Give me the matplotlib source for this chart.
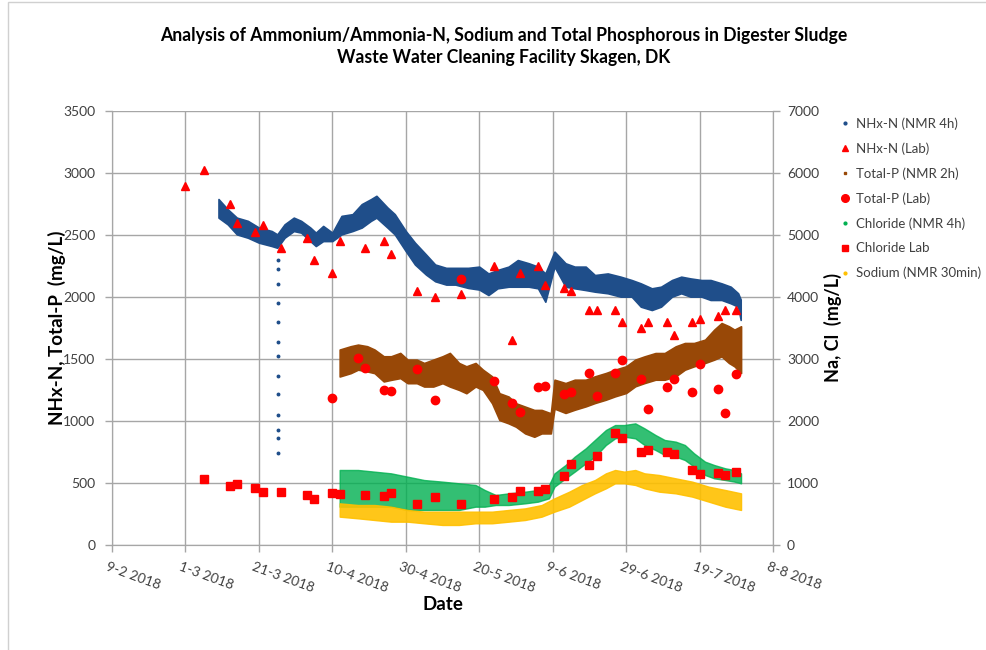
import matplotlib
matplotlib.use('Agg')
import matplotlib.pyplot as plt
import matplotlib.transforms as mtransforms
from matplotlib.lines import Line2D
import numpy as np
import pandas as pd

plt.rcParams['font.family'] = ['Lato', 'DejaVu Sans']

START = pd.Timestamp('2018-02-09')
END = pd.Timestamp('2018-08-08')

# ---------------- data ----------------
LAB_DATES_NH = ['2018-03-01', '2018-03-06', '2018-03-13', '2018-03-15', '2018-03-20', '2018-03-22',
                '2018-03-27', '2018-04-03', '2018-04-05', '2018-04-10', '2018-04-12', '2018-04-19',
                '2018-04-24', '2018-04-26', '2018-05-03', '2018-05-08', '2018-05-15', '2018-05-24',
                '2018-05-29', '2018-05-31', '2018-06-05', '2018-06-07', '2018-06-12', '2018-06-14',
                '2018-06-19', '2018-06-21', '2018-06-26', '2018-06-28', '2018-07-03', '2018-07-05',
                '2018-07-10', '2018-07-12', '2018-07-17', '2018-07-19', '2018-07-24', '2018-07-26',
                '2018-07-29']
NH_LAB = [2895, 3022, 2748, 2594, 2522, 2578, 2398, 2476, 2296, 2196, 2449, 2398, 2449, 2349,
          2048, 1998, 2022, 2250, 1651, 2196, 2250, 2097, 2075, 2048, 1895, 1895, 1895, 1796,
          1748, 1796, 1796, 1696, 1796, 1823, 1849, 1895, 1895]

LAB_DATES_P = ['2018-04-10', '2018-04-17', '2018-04-19', '2018-04-24', '2018-04-26', '2018-05-03',
               '2018-05-08', '2018-05-15', '2018-05-24', '2018-05-29', '2018-05-31', '2018-06-05',
               '2018-06-07', '2018-06-12', '2018-06-14', '2018-06-19', '2018-06-21', '2018-06-26',
               '2018-06-28', '2018-07-03', '2018-07-05', '2018-07-10', '2018-07-12', '2018-07-17',
               '2018-07-19', '2018-07-24', '2018-07-26', '2018-07-29']
P_LAB = [1188, 1506, 1425, 1253, 1242, 1419, 1167, 2145, 1325, 1145, 1075, 1272, 1282, 1218,
         1231, 1385, 1204, 1390, 1492, 1336, 1094, 1277, 1336, 1231, 1457, 1261, 1067, 1377]

LAB_DATES_CL = LAB_DATES_NH[1:]
CL_LAB = [1069, 947, 979, 924, 850, 850, 802, 747, 834, 823, 802, 795, 844, 666, 769, 666, 747,
          769, 876, 876, 903, 1108, 1311, 1285, 1440, 1811, 1726, 1495, 1537, 1505, 1473, 1210,
          1150, 1161, 1129, 1177]

# NMR series: day offsets from 9-2 2018 with lower / upper edge of the point cloud
NH_DAY = [29, 31.5, 34, 37, 40, 43.5, 45, 47, 49.5, 51.5, 54, 55.5, 57.5, 60, 62.5, 65.5, 68,
          70.5, 72, 75, 77, 80, 82.5, 85.5, 88, 91, 93.5, 97, 100, 102.5, 105, 108, 110.5,
          113.5, 116, 118, 120.5, 123.5, 126, 129, 131.5, 135, 138.5, 141.5, 144, 147, 149.5,
          152.5, 155, 157.5, 160.5, 163, 166, 168.5, 170.5, 171.2]
NH_LOW = [2640, 2586, 2505, 2478, 2438, 2411, 2397, 2478, 2532, 2519, 2451, 2411, 2451, 2451,
          2505, 2532, 2560, 2614, 2640, 2560, 2505, 2370, 2262, 2181, 2127, 2100, 2100, 2073,
          2060, 2016, 2070, 2083, 2083, 2083, 2070, 1962, 2245, 2083, 2070, 2056, 2043, 2030,
          2003, 2003, 1922, 1895, 1922, 2003, 2030, 2003, 2003, 1976, 1976, 1949, 1922, 1815]
NH_HIGH = [2790, 2708, 2640, 2614, 2560, 2532, 2505, 2586, 2640, 2614, 2560, 2519, 2573, 2519,
           2654, 2668, 2749, 2789, 2816, 2722, 2668, 2532, 2438, 2343, 2262, 2235, 2235, 2235,
           2245, 2190, 2218, 2245, 2298, 2272, 2245, 2190, 2366, 2272, 2245, 2245, 2177, 2190,
           2164, 2137, 2110, 2070, 2083, 2137, 2164, 2150, 2137, 2137, 2110, 2083, 2030, 1980]
NH_DROP_DAY = 45.1
NH_DROP = [2298, 2226, 2105, 1949, 1801, 1637, 1524, 1366, 1215, 1051, 930, 863, 739]

P_DAY = [62, 65, 67, 69.5, 71.5, 74, 76, 78.5, 80.5, 83, 85, 87.5, 90, 92, 94.5, 96.5, 99,
         101, 103.5, 105.5, 108, 110, 112.5, 115, 117, 119.5, 120.5, 123.5, 126, 129, 131.5,
         134.5, 137, 140, 142.5, 145, 148, 150.5, 153.5, 156, 158.5, 161.5, 164, 166, 168,
         169.5, 171.3]
P_LOW = [1359, 1386, 1414, 1400, 1386, 1319, 1332, 1346, 1305, 1305, 1278, 1278, 1305, 1278,
         1251, 1224, 1278, 1251, 1143, 1008, 981, 954, 900, 873, 900, 900, 1100, 1065, 1091,
         1118, 1145, 1172, 1199, 1226, 1280, 1306, 1333, 1333, 1360, 1414, 1441, 1468, 1495,
         1521, 1468, 1441, 1387]
P_HIGH = [1576, 1603, 1616, 1603, 1576, 1522, 1522, 1549, 1495, 1495, 1468, 1495, 1522, 1549,
          1468, 1441, 1468, 1414, 1360, 1224, 1197, 1143, 1116, 1089, 1089, 1062, 1333, 1306,
          1333, 1333, 1360, 1387, 1414, 1441, 1495, 1521, 1548, 1548, 1602, 1629, 1629, 1656,
          1737, 1790, 1764, 1737, 1764]

CL_DAY = [62, 67, 71.5, 76, 80.5, 85, 90, 94.5, 99, 101.5, 104.5, 108, 112.5, 116, 119, 120.5,
          123.5, 126, 129, 131.5, 134.5, 137, 139.5, 142.5, 145, 148, 150.5, 153.5, 156, 158.5,
          161.5, 164, 167, 169.5, 171.3]
CL_LOW = [618, 618, 618, 618, 565, 565, 565, 565, 618, 618, 645, 645, 672, 699, 753, 941, 1075,
          1183, 1317, 1425, 1613, 1720, 1747, 1720, 1613, 1532, 1452, 1425, 1371, 1264, 1129,
          1075, 1048, 1022, 995]
CL_HIGH = [1210, 1210, 1183, 1156, 1102, 1048, 1022, 995, 968, 887, 807, 833, 860, 887, 968,
           1156, 1290, 1425, 1559, 1694, 1855, 1935, 1935, 1962, 1882, 1774, 1694, 1667, 1613,
           1478, 1344, 1290, 1237, 1210, 1156]

NA_DAY = [62, 67, 71.5, 76, 80.5, 85, 90, 94.5, 99, 103.5, 108, 112.5, 117, 120.5, 124.5, 128,
          131.5, 134.5, 137, 139.5, 142.5, 145, 149, 153.5, 158, 162.5, 167, 171.3]
NA_LOW = [457, 430, 403, 376, 376, 350, 323, 323, 350, 350, 376, 403, 457, 538, 618, 726, 833,
          914, 995, 995, 968, 914, 860, 833, 780, 699, 618, 565]
NA_HIGH = [672, 645, 645, 618, 565, 538, 538, 538, 538, 538, 565, 591, 645, 753, 860, 968, 1048,
           1156, 1210, 1183, 1210, 1156, 1129, 1075, 1022, 941, 887, 833]

LEGEND_LABELS = ['NHx-N (NMR 4h)', 'NHx-N (Lab)', 'Total-P (NMR 2h)', 'Total-P (Lab)',
                 'Chloride (NMR 4h)', 'Chloride Lab', 'Sodium (NMR 30min)']

C_NH = '#1F4E8A'
C_P = '#984807'
C_CL = '#00B050'
C_NA = '#FFC000'
C_RED = '#FF0000'
GRID = '#A6A6A6'
TXT = '#404040'


def to_dates(d):
    return START + pd.to_timedelta(np.asarray(d, dtype=float), unit='D')


W, H = 987, 650
fig = plt.figure(figsize=(W / 100, H / 100), dpi=100)
L, R, T, B = 112, 773, 111, 545
ax = fig.add_axes([L / W, 1 - B / H, (R - L) / W, (B - T) / H])
ax2 = ax.twinx()

# outer chart border
fig.patches.append(plt.Rectangle((8 / W, -0.01), 1.1, 1 - 2 / H + 0.01, transform=fig.transFigure,
                                 fill=False, edgecolor='#D0D0D0', lw=1))

# primary axis series
ax.fill_between(to_dates(NH_DAY), NH_LOW, NH_HIGH, color=C_NH, lw=1.2, zorder=3)
ax.plot(to_dates([NH_DROP_DAY] * len(NH_DROP)), NH_DROP, ls='none', marker='o', ms=1.8,
        color=C_NH, zorder=3)
ax.plot(pd.to_datetime(LAB_DATES_NH), NH_LAB, ls='none', marker='^', ms=6, color=C_RED, zorder=4)
ax.fill_between(to_dates(P_DAY), P_LOW, P_HIGH, color=C_P, lw=1.2, zorder=5)
ax.plot(pd.to_datetime(LAB_DATES_P), P_LAB, ls='none', marker='o', ms=6, color=C_RED, zorder=6)

# secondary axis series
ax2.fill_between(to_dates(CL_DAY), CL_LOW, CL_HIGH, color=C_CL, lw=1.0, alpha=0.8, zorder=3)
ax2.plot(pd.to_datetime(LAB_DATES_CL), CL_LAB, ls='none', marker='s', ms=5.5, color=C_RED, zorder=4)
ax2.fill_between(to_dates(NA_DAY), NA_LOW, NA_HIGH, color=C_NA, lw=1.0, alpha=0.9, zorder=5)

# axes formatting
ticks = pd.date_range(START, END, freq='20D')
ax.set_xlim(START, END)
ax.set_xticks(ticks)
ax.set_xticklabels([f'{d.day}-{d.month} {d.year}' for d in ticks], rotation=-20, ha='left',
                   va='top', rotation_mode='anchor', fontsize=10, color=TXT)
ax.set_ylim(0, 3500)
ax.set_yticks(np.arange(0, 3501, 500))
ax2.set_ylim(0, 7000)
ax2.set_yticks(np.arange(0, 7001, 1000))
ax.grid(True, color=GRID, lw=1)
ax.set_axisbelow(True)
for a in (ax, ax2):
    for s in a.spines.values():
        s.set_color(GRID)
    a.spines['top'].set_visible(False)
ax.tick_params(axis='both', colors=GRID, labelcolor=TXT, labelsize=10, length=5, width=1)
ax2.tick_params(axis='y', colors=GRID, labelcolor=TXT, labelsize=10, length=5, width=1, pad=5)
ax.tick_params(axis='y', pad=7)
ax.tick_params(axis='x', pad=6)
offset = mtransforms.ScaledTranslation(-4 / 100, 0, fig.dpi_scale_trans)
for lab in ax.get_xticklabels():
    lab.set_transform(lab.get_transform() + offset)

# labels
fig.text(57 / W, 1 - 328 / H, 'NHx-N, Total-P  (mg/L)', rotation=90, ha='center', va='center',
         fontsize=13.5, fontweight='bold', color='black')
fig.text(833 / W, 1 - 328 / H, 'Na, Cl  (mg/L)', rotation=90, ha='center', va='center',
         fontsize=13, fontweight='bold', color='black')
fig.text(443 / W, 1 - 605 / H, 'Date', ha='center', va='center', fontsize=13.5,
         fontweight='bold', color='black')
fig.text(504 / W, 1 - 35 / H, 'Analysis of Ammonium/Ammonia-N, Sodium and Total Phosphorous in Digester Sludge',
         ha='center', va='center', fontsize=12.7, fontweight='bold', color='black')
fig.text(504 / W, 1 - 58 / H, 'Waste Water Cleaning Facility Skagen, DK', ha='center', va='center',
         fontsize=12.7, fontweight='bold', color='black')

# legend
handles = [
    Line2D([], [], ls='none', marker='o', ms=2, color=C_NH),
    Line2D([], [], ls='none', marker='^', ms=5, color=C_RED),
    Line2D([], [], ls='none', marker='s', ms=2, color=C_P),
    Line2D([], [], ls='none', marker='o', ms=5.5, color=C_RED),
    Line2D([], [], ls='none', marker='o', ms=2, color=C_CL),
    Line2D([], [], ls='none', marker='s', ms=5, color=C_RED),
    Line2D([], [], ls='none', marker='o', ms=2, color=C_NA),
]
fig.legend(handles, LEGEND_LABELS, loc='upper left', bbox_to_anchor=(840 / W, 1 - 117 / H),
           frameon=False, fontsize=9.5, handlelength=0.8, handletextpad=0.4, labelspacing=0.95,
           labelcolor=TXT, borderaxespad=0, borderpad=0)

fig.savefig('out.png', dpi=100)
